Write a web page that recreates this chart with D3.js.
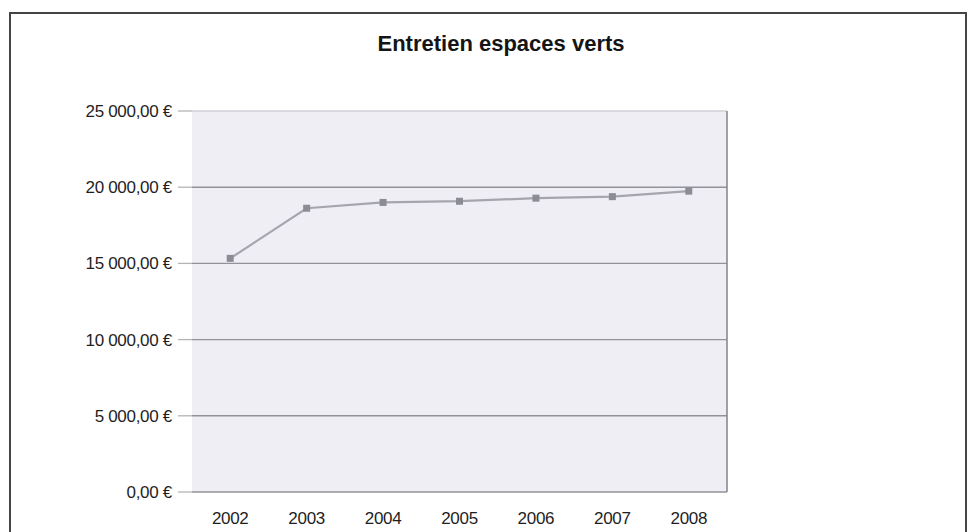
<!DOCTYPE html>
<html lang="fr">
<head>
<meta charset="utf-8">
<script src="https://d3js.org/d3.v7.min.js"></script>
<style>
  body { margin: 0; background: #fff; }
  .axis text { font-family: "Liberation Sans", Arial, sans-serif; font-size: 17px; fill: #1e1e1e; letter-spacing: -0.3px; }
  .axis path { display: none; }
  .title { font-family: "Liberation Sans", Arial, sans-serif; font-size: 22px; font-weight: bold; fill: #151515; }
</style>
</head>
<body>
<div id="chart"></div>
<script>
var years = ["2002", "2003", "2004", "2005", "2006", "2007", "2008"];
var values = [15330, 18620, 19000, 19080, 19280, 19380, 19740];
var yTicks = [0, 5000, 10000, 15000, 20000, 25000];

var W = 970, H = 532;
var plot = { left: 192, right: 727, top: 111, bottom: 492 };

var svg = d3.select("#chart").append("svg")
    .attr("width", W)
    .attr("height", H);

// outer frame
svg.append("rect")
    .attr("x", 10).attr("y", 13)
    .attr("width", 956).attr("height", 540)
    .attr("fill", "#fff")
    .attr("stroke", "#444")
    .attr("stroke-width", 2);

var x = d3.scaleBand()
    .domain(years)
    .range([plot.left, plot.right]);

var y = d3.scaleLinear()
    .domain([0, 25000])
    .range([plot.bottom, plot.top]);

// plot background
svg.append("rect")
    .attr("x", plot.left).attr("y", plot.top)
    .attr("width", plot.right - plot.left)
    .attr("height", plot.bottom - plot.top)
    .attr("fill", "#eeeef4");

// small tick dashes left of plot
svg.append("g")
    .selectAll("line")
    .data(yTicks)
    .enter().append("line")
    .attr("x1", plot.left - 14)
    .attr("x2", plot.left)
    .attr("y1", function(d) { return y(d); })
    .attr("y2", function(d) { return y(d); })
    .attr("stroke", "#b4b4b8")
    .attr("stroke-width", 1.3);

// gridlines
svg.append("g")
    .selectAll("line")
    .data(yTicks)
    .enter().append("line")
    .attr("x1", plot.left)
    .attr("x2", plot.right)
    .attr("y1", function(d) { return y(d); })
    .attr("y2", function(d) { return y(d); })
    .attr("stroke", function(d) { return d === 25000 ? "#cfcfd6" : "#929299"; })
    .attr("stroke-width", 1.4);

// right border of plot
svg.append("line")
    .attr("x1", plot.right).attr("x2", plot.right)
    .attr("y1", plot.top).attr("y2", plot.bottom)
    .attr("stroke", "#8a8a92")
    .attr("stroke-width", 1.6);

var fmt = function(d) {
    var s = d3.format(",.2f")(d).replace(/,/g, " ").replace(".", ",");
    return s + " €";
};

svg.append("g")
    .attr("class", "axis")
    .attr("transform", "translate(" + (plot.left - 14) + ",0)")
    .call(d3.axisLeft(y).tickValues(yTicks).tickFormat(fmt).tickSize(0).tickPadding(6));

svg.append("g")
    .attr("class", "axis")
    .attr("transform", "translate(0," + plot.bottom + ")")
    .call(d3.axisBottom(x).tickSize(0).tickPadding(20));

svg.append("text")
    .attr("class", "title")
    .attr("x", 501)
    .attr("y", 51)
    .attr("text-anchor", "middle")
    .text("Entretien espaces verts");

var line = d3.line()
    .x(function(d, i) { return x(years[i]) + x.bandwidth() / 2; })
    .y(function(d) { return y(d); });

svg.append("path")
    .datum(values)
    .attr("d", line)
    .attr("fill", "none")
    .attr("stroke", "#a5a5ad")
    .attr("stroke-width", 2.2);

svg.append("g")
    .selectAll("rect")
    .data(values)
    .enter().append("rect")
    .attr("x", function(d, i) { return x(years[i]) + x.bandwidth() / 2 - 3.5; })
    .attr("y", function(d) { return y(d) - 3.5; })
    .attr("width", 7)
    .attr("height", 7)
    .attr("fill", "#8c8c94");
</script>
</body>
</html>
